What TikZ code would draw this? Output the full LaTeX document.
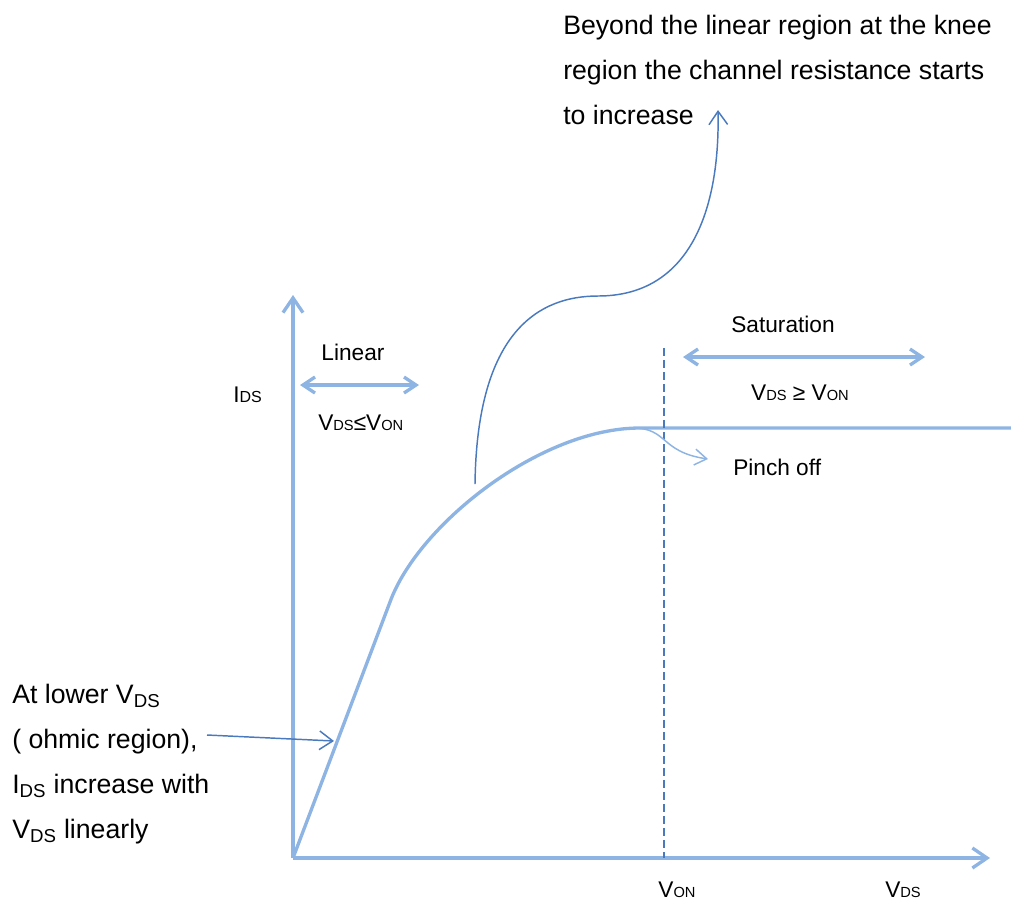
\documentclass[tikz,border=0pt]{standalone}
\usepackage{fontspec}
\setmainfont{Liberation Sans}
\usetikzlibrary{arrows.meta}
\definecolor{curveblue}{RGB}{141,180,226}
\definecolor{leaderblue}{RGB}{74,122,190}
% small letters sitting on the baseline, as in the axis labels
\newcommand{\lowsub}[1]{{\fontsize{11}{12}\selectfont #1}}
\newcommand{\lblfont}{\fontsize{17}{20}\selectfont}
\newcommand{\notefont}{\fontsize{20}{33.75}\selectfont}

\begin{document}
\begin{tikzpicture}[x=0.75pt,y=-0.75pt,
  axisline/.style={draw=curveblue,line width=2.5pt,
    -{Straight Barb[length=11pt,width=15pt]}},
  spanarrow/.style={draw=curveblue,line width=2.5pt,
    {Straight Barb[length=9pt,width=12pt]}-{Straight Barb[length=9pt,width=12pt]}},
  curveline/.style={draw=curveblue,line width=2.5pt,line join=round},
  vonline/.style={draw=leaderblue,line width=1.5pt,dash pattern=on 6pt off 3pt},
  leader/.style={draw=leaderblue,line width=1.1pt,
    -{Straight Barb[length=10pt,width=14pt]}},
  pinchleader/.style={draw=curveblue,line width=1.1pt,
    -{Straight Barb[length=9pt,width=12pt]}},
  lbl/.style={inner sep=0pt,font=\lblfont,text=black},
  note/.style={inner sep=0pt,font=\notefont,text=black,align=left}]

\useasboundingbox (0,0) rectangle (1011,901);

% axes
\coordinate (O) at (293,858);
\coordinate (ytop) at (293,295);
\coordinate (xend) at (990,858);
\draw[axisline] (O) -- (ytop);
\draw[axisline] (O) -- (xend);

% output characteristic
\coordinate (lin) at (390,602);
\coordinate (sat) at (640,428);
\coordinate (right) at (1011,428);
\draw[curveline] (O) -- (lin) .. controls (418,525) and (540,428) .. (sat) -- (right);

% pinch-off voltage marker
\coordinate (vontop) at (664,348);
\coordinate (vonbot) at (664,858);
\draw[vonline] (vontop) -- (vonbot);

% region spans
\coordinate (linL) at (300,385);
\coordinate (linR) at (419,385);
\draw[spanarrow] (linL) -- (linR);
\coordinate (satL) at (683,357);
\coordinate (satR) at (925,357);
\draw[spanarrow] (satL) -- (satR);

% labels
\node[lbl,anchor=base] (linear) at (353,360) {Linear};
\node[lbl,anchor=base west] (ids) at (233,402) {I{\fontsize{12}{13}\selectfont DS}};
\node[lbl,anchor=base west] (linrange) at (318,430) {V\lowsub{DS}≤V\lowsub{ON}};
\node[lbl,anchor=base] (saturation) at (783,332) {Saturation};
\node[lbl,anchor=base] (satrange) at (800,400) {V\lowsub{DS} ≥ V\lowsub{ON}};
\node[lbl,anchor=base west] (pinch) at (733,475) {Pinch off};
\node[lbl,anchor=base] (von) at (677,897) {V\lowsub{ON}};
\node[lbl,anchor=base] (vds) at (903,897) {V\lowsub{DS}};

% pinch-off leader
\coordinate (pinchfrom) at (633,428);
\coordinate (pinchtip) at (708,459);
\draw[pinchleader] (pinchfrom) .. controls (668,428) and (660,452) .. (pinchtip);

% knee note
\node[note,anchor=north west] (knee) at (563,15)
  {Beyond the linear region at the knee\\region the channel resistance starts\\to increase};
\coordinate (kneept) at (475,484);
\coordinate (kneemid) at (598,296);
\coordinate (kneetip) at (718,110);
\draw[leader] (kneept) .. controls (477,330) and (540,296) .. (kneemid)
  .. controls (690,296) and (720,210) .. (kneetip);

% ohmic note
\node[note,anchor=north west] (ohmic) at (12,684)
  {At lower V\textsubscript{DS}\\( ohmic region),\\I\textsubscript{DS} increase with\\V\textsubscript{DS} linearly};
\coordinate (ohmfrom) at (207,735);
\coordinate (ohmtip) at (334,741);
\draw[leader] (ohmfrom) -- (ohmtip);

\end{tikzpicture}
\end{document}
